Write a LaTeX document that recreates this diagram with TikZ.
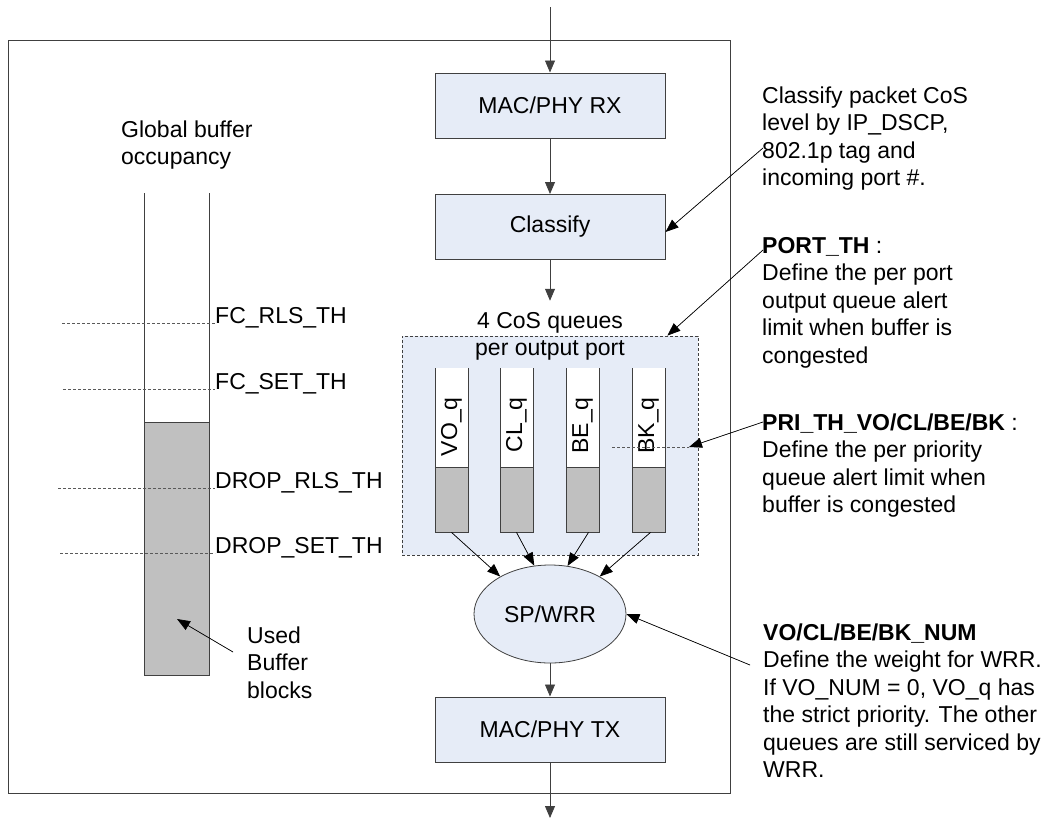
\documentclass[tikz,border=0pt]{standalone}
\usepackage{fontspec}
\setmainfont{Liberation Sans}
\usetikzlibrary{shapes.geometric,arrows.meta,calc}
\definecolor{boxblue}{RGB}{230,236,247}
\definecolor{usedgray}{RGB}{192,192,192}
\definecolor{linegray}{RGB}{64,64,64}
\begin{document}
\begin{tikzpicture}[x=1pt,y=-1pt,
  every node/.style={font=\fontsize{23}{27.5}\selectfont},
  txt/.style={inner sep=0pt, anchor=base west},
  para/.style={inner sep=0pt, anchor=north west, align=left},
  block/.style={draw=linegray, fill=boxblue, line width=1pt, minimum width=230pt, minimum height=65pt, inner sep=0pt},
  usedbox/.style={draw=linegray, fill=usedgray, line width=0.8pt, inner sep=0pt},
  arr/.style={-{Triangle[length=12pt,width=10pt]}, line width=0.8pt, draw=black!75, fill=black},
  thinarr/.style={-{Triangle[length=13pt,width=10pt]}, line width=0.7pt, draw=black, fill=black},
  thresh/.style={dash pattern=on 3pt off 2pt, line width=0.7pt, draw=black!65},
  wall/.style={line width=0.8pt, draw=linegray}
]
\useasboundingbox (0,0) rectangle (1043,823);

% outer frame
\draw[line width=1pt, draw=linegray] (8,40) rectangle (730,793);

% main blocks
\node[block] (rx)  at (550,105.5) {MAC/PHY RX};
\node[block] (cls) at (550,227)   {Classify};
\node[block] (tx)  at (550,729.5) {MAC/PHY TX};

% queue group
\node[draw=black!75, dash pattern=on 3pt off 2pt, line width=0.8pt, fill=boxblue,
      minimum width=296pt, minimum height=219pt, inner sep=0pt] (qbox) at (550,445.5) {};
\node[para, align=center, anchor=north] (qtitle) at (550,308.75) {\strut 4 CoS queues\\per output port};

\foreach \n/\x/\t in {vo/451.5/VO\_q, cl/516.5/CL\_q, be/582.5/BE\_q, bk/648.5/BK\_q}{
  \fill[white] (\x-16.5,368) rectangle (\x+16.5,467);
  \draw[wall] (\x-16.5,368) -- (\x-16.5,467);
  \draw[wall] (\x+16.5,368) -- (\x+16.5,467);
  \node[usedbox, minimum width=33pt, minimum height=65pt] (\n) at (\x,499.5) {};
  \node[rotate=90, anchor=east, inner sep=0pt] (\n lab) at (\x,397) {\t};
}

% scheduler
\node[ellipse, draw=linegray, fill=boxblue, line width=0.8pt,
      minimum width=152pt, minimum height=98pt, inner sep=0pt] (sp) at (550,614) {SP/WRR};

% main flow
\coordinate (in)  at (550,7);
\coordinate (out) at (550,818);
\draw[arr] (in) -- (rx.north);
\draw[arr] (rx) -- (cls);
\draw[arr] (cls.south) -- ([yshift=8pt]qtitle.north);
\draw[arr] (sp) -- (tx);
\draw[arr] (tx) -- (out);

\draw[thinarr] (vo.south) -- (sp.143);
\draw[thinarr] (cl.south) -- (sp.108);
\draw[thinarr] ([xshift=6pt]be.south) -- (sp.70);
\draw[thinarr] ([xshift=2pt]bk.south) -- (sp.37);

% global buffer column
\node[para] (gbo) at (121,117.75) {\strut Global buffer\\occupancy};
\draw[wall] (144,193) -- (144,422);
\draw[wall] (209,193) -- (209,422);
\node[usedbox, minimum width=65pt, minimum height=253pt] (used) at (176.5,548.5) {};

\node[txt] (fcr) at (215,323) {FC\_RLS\_TH};
\node[txt] (fcs) at (215,389) {FC\_SET\_TH};
\node[txt] (drr) at (215,488) {DROP\_RLS\_TH};
\node[txt] (drs) at (215,553) {DROP\_SET\_TH};
\coordinate (fcr0) at (62,323);
\coordinate (fcs0) at (63,389);
\coordinate (drr0) at (58,488);
\coordinate (drs0) at (60,553);
\draw[thresh] (fcr0) -- (fcr.base west);
\draw[thresh] (fcs0) -- (fcs.base west);
\draw[thresh] (drr0) -- (drr.base west);
\draw[thresh] (drs0) -- (drs.base west);

\node[para] (ubb) at (247,623.75) {\strut Used\\Buffer\\blocks};
\coordinate (ubs) at (233,652);
\coordinate (ubt) at (177,619);
\draw[thinarr] (ubs) -- (ubt);

% right-hand notes
\node[para] (n1) at (762,83.75) {\strut Classify packet CoS\\level by IP\_DSCP,\\802.1p tag and\\incoming port \#.};
\node[para] (n2) at (762,233.75) {\strut\textbf{PORT\_TH} :\\Define the per port\\output queue alert\\limit when buffer is\\congested};
\node[para] (n3) at (762,410.75) {\strut\textbf{PRI\_TH\_VO/CL/BE/BK} :\\Define the per priority\\queue alert limit when\\buffer is congested};
\node[para] (n4) at (763,620.75) {\strut\textbf{VO/CL/BE/BK\_NUM}\\Define the weight for WRR.\\If VO\_NUM = 0, VO\_q has\\the strict priority. The other\\queues are still serviced by\\WRR.};

\coordinate (n1s) at (763,148);
\coordinate (n2s) at (763,250);
\coordinate (n3s) at (763,422);
\coordinate (n4s) at (750,665);
\coordinate (pri0) at (612,447);
\coordinate (pri1) at (689,447);

\draw[thinarr] (n1s) -- ([yshift=-5pt]cls.east);
\draw[thinarr] (n2s) -- ([xshift=-31pt]qbox.north east);
\draw[thresh] (pri0) -- (pri1);
\draw[thinarr] (n3s) -- (pri1);
\draw[thinarr] (n4s) -- (sp.east);
\end{tikzpicture}
\end{document}
